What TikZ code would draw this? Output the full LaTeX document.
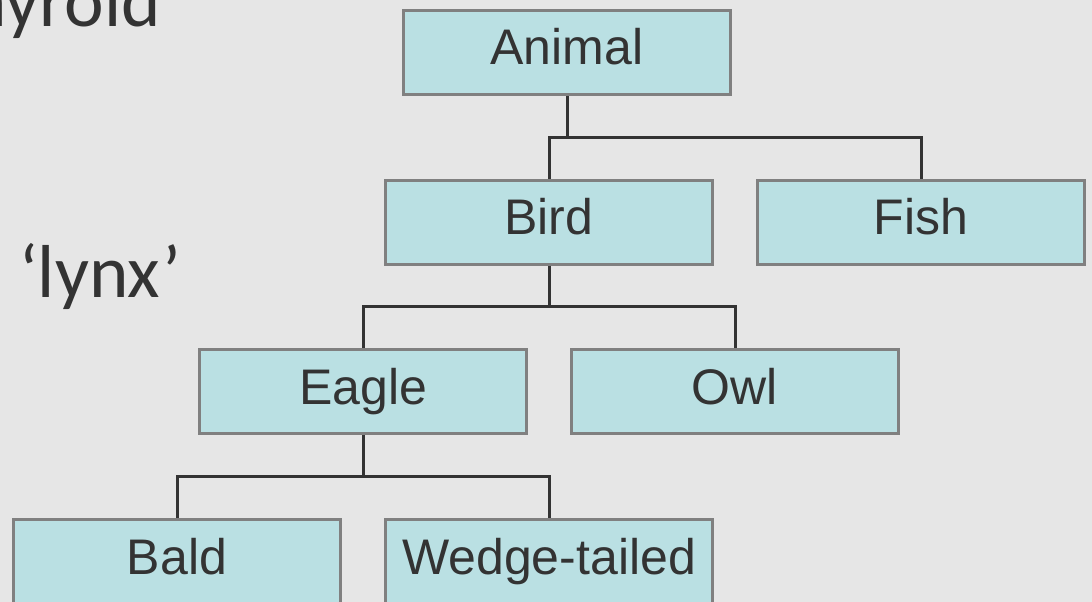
\documentclass[tikz,border=0pt]{standalone}
\usepackage{fontspec}
\setmainfont{Liberation Sans}
\newfontfamily\sidefont{Carlito}
\usetikzlibrary{calc}
\definecolor{slidebg}{HTML}{E6E6E6}
\definecolor{boxfill}{HTML}{BAE0E3}
\definecolor{boxline}{HTML}{808080}
\definecolor{inkgray}{HTML}{333333}

\begin{document}
\begin{tikzpicture}[x=1pt, y=-1pt,
  box/.style={draw=boxline, line width=3pt, fill=boxfill, minimum width=327pt,
    minimum height=84pt, inner sep=0pt, text=inkgray,
    font=\fontsize{50}{60}\selectfont, text height=36pt, text depth=11pt},
  side/.style={inner sep=0pt, text=inkgray, font=\sidefont\fontsize{75}{90}\selectfont},
  link/.style={draw=inkgray, line width=3pt}]
\useasboundingbox (0,0) rectangle (1092,602);
\clip (0,0) rectangle (1092,602);
\fill[slidebg] (0,0) rectangle (1092,602);
% words left over from the slide behind
\node[side, anchor=base east] (thyroid) at (161,27) {hyroid};
\node[side, anchor=base west] (lynx) at (19,297) {‘lynx’};
% the boxes
\foreach \name/\x/\y/\txt in {animal/567/52.5/Animal, bird/549/222/Bird,
  fish/921/222/Fish, eagle/363/391.5/Eagle, owl/735/391.5/Owl,
  bald/177/561.5/Bald, wedge/549/561.5/Wedge-tailed} {
 \node[box] (\name) at (\x,\y) {\txt};
}
% the tree links
\foreach \parent/\kida/\kidb in {animal/bird/fish, bird/eagle/owl, eagle/bald/wedge} {
 \coordinate (\parent-bar) at ($(\parent.south)!.5!(\parent.south|-\kida.north)$);
 \draw[link] (\parent.south) -- (\parent-bar) -| (\kida.north);
 \draw[link] (\parent-bar) -| (\kidb.north);
}
\end{tikzpicture}
\end{document}
